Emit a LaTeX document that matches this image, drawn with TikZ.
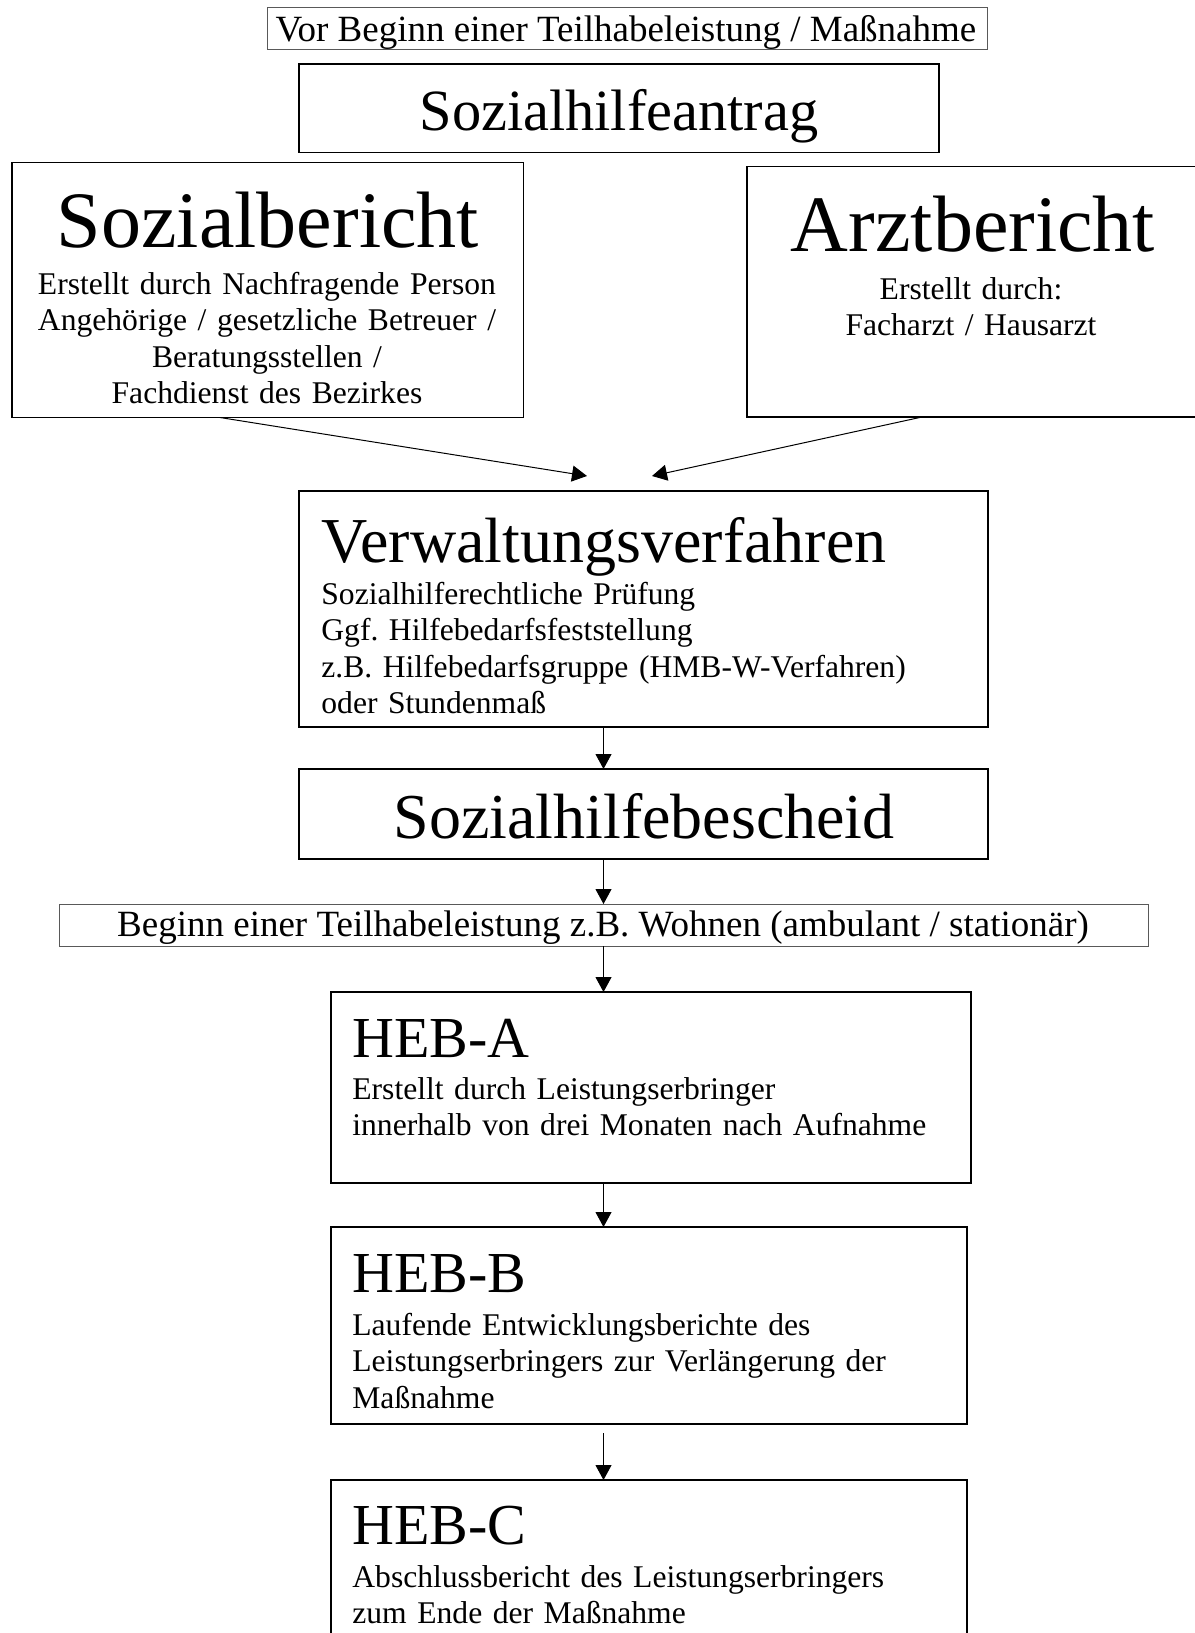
\documentclass[tikz,border=0pt]{standalone}
\usepackage{fontspec}
\setmainfont{Liberation Serif}
\usetikzlibrary{arrows.meta,calc}
\frenchspacing

\begin{document}
\begin{tikzpicture}[x=0.5pt, y=-0.5pt, >={Triangle[length=7.5pt, width=8pt]},
    box/.style={draw, line width=0.7pt, anchor=north west, inner sep=0pt, outer sep=0pt},
    thinbox/.style={draw=black!65, line width=0.4pt, anchor=north west, inner sep=0pt, outer sep=0pt},
    head/.style={inner sep=0pt, font=\fontsize{#1}{#1}\selectfont},
    body/.style={inner sep=0pt, text width=#1, font=\fontsize{15.8}{18.25}\selectfont},
    link/.style={->, line width=0.5pt}]
    \useasboundingbox (0,0) rectangle (1194,1633);

    % frames
    \node[thinbox, minimum width=360pt, minimum height=21pt](vor) at (267,7.5) {};
    \node[thinbox, minimum width=544.5pt, minimum height=21pt](beginn) at (59,904) {};
    \foreach \N/\X/\Y/\W/\H in {antrag/299/64/640/88.5,
                               sozb/12/162.5/511.5/255,
                               arzt/747/166.5/455/250.5,
                               verw/299/491/689/236,
                               besch/299/769/689/90,
                               heba/331/992/640/191,
                               hebb/331/1227/636/197,
                               hebc/331/1480/636/165} {
        \node[box, minimum width=\W*0.5pt, minimum height=\H*0.5pt](\N) at (\X,\Y) {};
    }

    % texts
    \node[head=18.5, anchor=base](vortxt) at (626,41.7) {Vor Beginn einer Teilhabeleistung / Maßnahme};
    \node[head=29.2, anchor=base](antragtxt) at (619,130) {Sozialhilfeantrag};

    \node[head=40, anchor=base](sozbtitle) at (268,247) {Sozialbericht};
    \node[body=250pt, align=center, anchor=base](sozbtxt) at (267,294)
        {Erstellt durch Nachfragende Person\\ Angehörige / gesetzliche Betreuer /\\ Beratungsstellen /\\ Fachdienst des Bezirkes};

    \node[head=40, anchor=base](arzttitle) at (973,251) {Arztbericht};
    \node[body=200pt, align=center, anchor=base](arzttxt) at (971,299) {Erstellt durch:\\ Facharzt / Hausarzt};

    \node[head=32, anchor=base west](verwtitle) at (321,562) {Verwaltungsverfahren};
    \node[body=320pt, align=left, anchor=base west](verwtxt) at (321,604)
        {Sozialhilferechtliche Prüfung\\ Ggf. Hilfebedarfsfeststellung\\ z.B. Hilfebedarfsgruppe (HMB-W-Verfahren)\\ oder Stundenmaß};

    \node[head=32, anchor=base](beschtxt) at (644,838) {Sozialhilfebescheid};
    \node[head=18.5, anchor=base](beginntxt) at (603,936) {Beginn einer Teilhabeleistung z.B. Wohnen (ambulant / stationär)};

    \node[head=29, anchor=base west](hebatitle) at (352,1057) {HEB-A};
    \node[body=300pt, align=left, anchor=base west](hebatxt) at (352,1099)
        {Erstellt durch Leistungserbringer\\ innerhalb von drei Monaten nach Aufnahme};

    \node[head=29, anchor=base west](hebbtitle) at (352,1292) {HEB-B};
    \node[body=300pt, align=left, anchor=base west](hebbtxt) at (352,1335)
        {Laufende Entwicklungsberichte des\\ Leistungserbringers zur Verlängerung der\\ Maßnahme};

    \node[head=29, anchor=base west](hebctitle) at (352,1544) {HEB-C};
    \node[body=300pt, align=left, anchor=base west](hebctxt) at (352,1587)
        {Abschlussbericht des Leistungserbringers\\ zum Ende der Maßnahme};

    % arrows
    \coordinate (tipl) at (587,476);
    \coordinate (tipr) at (652,476);
    \draw[link] ([xshift=-23.9pt]sozb.south) -- (tipl);
    \draw[link] ([xshift=-26.25pt]arzt.south) -- (tipr);

    \draw[link] (verw.south -| beginn) -- (besch.north -| beginn);
    \draw[link] (besch.south -| beginn) -- (beginn.north);
    \draw[link] (beginn.south) -- (heba.north -| beginn);
    \draw[link] (heba.south -| beginn) -- (hebb.north -| beginn);
    \draw[link] ($(hebb.south -| beginn)+(0,9)$) -- (hebc.north -| beginn);
\end{tikzpicture}
\end{document}
